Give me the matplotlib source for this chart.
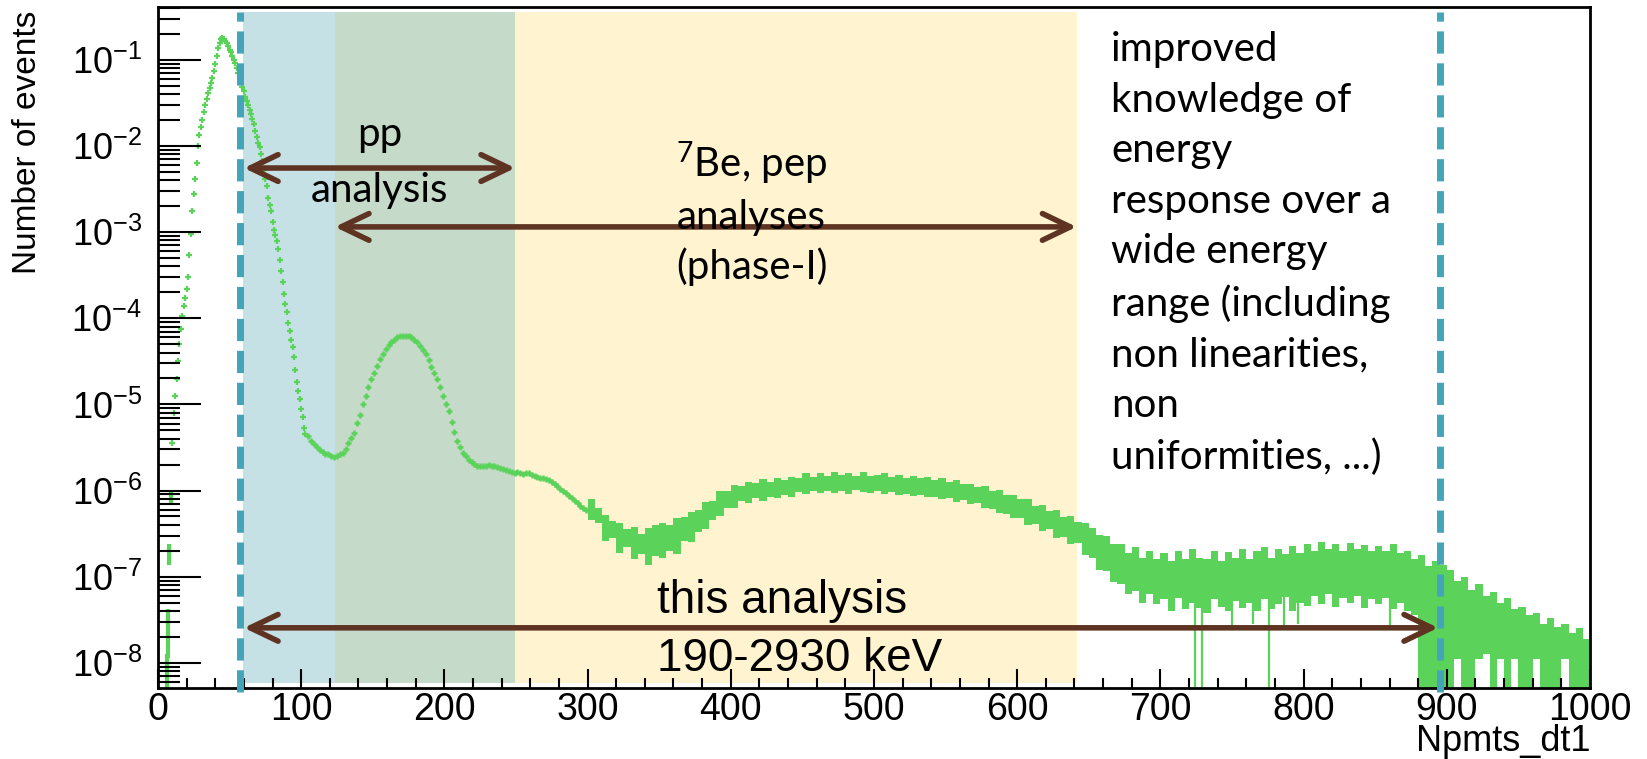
import numpy as np
import matplotlib
matplotlib.use("Agg")
import matplotlib.pyplot as plt
from matplotlib.ticker import LogLocator, MultipleLocator, NullFormatter

# log10(events) per bin, main peak and fall (bins 10..103)
peak_x = np.arange(10, 104)
peak_log = [
    -5.45, -5.10, -4.90, -4.70, -4.50, -4.30, -4.12, -3.97, -3.86, -3.76,
    -3.66, -3.52, -3.27, -3.02, -2.76, -2.56, -2.38, -2.20, -2.00, -1.87,
    -1.78, -1.70, -1.60, -1.52, -1.45, -1.38, -1.33, -1.27, -1.21, -1.13,
    -1.05, -0.95, -0.86, -0.80, -0.76, -0.75, -0.76, -0.78, -0.80, -0.84,
    -0.88, -0.91, -0.95, -1.00, -1.04, -1.10, -1.15, -1.20, -1.26, -1.31,
    -1.36, -1.43, -1.48, -1.52, -1.58, -1.63, -1.69, -1.75, -1.83, -1.90,
    -1.96, -2.01, -2.09, -2.18, -2.28, -2.38, -2.46, -2.60, -2.68, -2.75,
    -2.88, -2.97, -3.03, -3.10, -3.20, -3.32, -3.45, -3.58, -3.72, -3.83,
    -3.93, -4.05, -4.15, -4.25, -4.33, -4.45, -4.60, -4.74, -4.84, -4.94,
    -5.05, -5.15, -5.27, -5.34,
]

# second peak and shoulder (every 2nd bin, 105..299)
shoulder_x = np.arange(105, 300, 2)
shoulder_log = [
    -5.37, -5.42, -5.46, -5.50, -5.53, -5.55, -5.57, -5.58, -5.60, -5.61,
    -5.60, -5.58, -5.56, -5.52, -5.45, -5.39, -5.33, -5.22, -5.12, -5.00,
    -4.90, -4.80, -4.71, -4.63, -4.55, -4.47, -4.41, -4.36, -4.31, -4.28,
    -4.25, -4.22, -4.21, -4.20, -4.20, -4.21, -4.22, -4.25, -4.28, -4.32,
    -4.37, -4.42, -4.48, -4.56, -4.63, -4.71, -4.80, -4.90, -4.99, -5.08,
    -5.20, -5.32, -5.42, -5.50, -5.56, -5.60, -5.64, -5.67, -5.69, -5.71,
    -5.72, -5.71, -5.71, -5.70, -5.71, -5.72, -5.73, -5.74, -5.75, -5.76,
    -5.77, -5.78, -5.80, -5.79, -5.80, -5.81, -5.80, -5.80, -5.82, -5.83,
    -5.84, -5.85, -5.86, -5.87, -5.88, -5.90, -5.92, -5.95, -5.98, -6.00,
    -6.03, -6.06, -6.09, -6.12, -6.15, -6.18, -6.20, -6.23,
]

# first few bins, large error bars
edge_x = [6, 7, 8, 9]
edge_lo = [-8.40, -7.94, -6.86, -6.14]
edge_hi = [-7.90, -7.37, -6.62, -6.02]

# tail 300..1000, 5-wide bins, error band low/high edges (log10)
tail_x = np.arange(300, 1000, 5)
tail_lo = [
    -6.34, -6.38, -6.58, -6.55, -6.72, -6.66, -6.80, -6.74, -6.86, -6.76,
    -6.78, -6.70, -6.74, -6.58, -6.60, -6.48, -6.45, -6.34, -6.30, -6.20,
    -6.20, -6.12, -6.14, -6.09, -6.12, -6.07, -6.09, -6.05, -6.07, -6.02,
    -6.04, -6.01, -6.03, -6.00, -6.03, -6.00, -6.04, -5.99, -6.02, -6.03,
    -6.00, -6.04, -6.02, -6.05, -6.04, -6.06, -6.05, -6.08, -6.07, -6.10,
    -6.09, -6.13, -6.11, -6.16, -6.15, -6.20, -6.21, -6.26, -6.27, -6.32,
    -6.32, -6.40, -6.39, -6.47, -6.45, -6.55, -6.54, -6.62, -6.61, -6.75,
    -6.78, -6.92, -6.93, -7.06, -7.08, -7.20, -7.17, -7.30, -7.20, -7.32,
    -7.26, -7.40, -7.25, -7.38, -7.30, -7.36, -7.42, -7.26, -7.35, -7.40,
    -7.28, -7.36, -7.30, -7.40, -7.26, -7.38, -7.32, -7.24, -7.40, -7.30,
    -7.34, -7.22, -7.32, -7.20, -7.35, -7.25, -7.30, -7.22, -7.36, -7.26,
    -7.32, -7.25, -7.38, -7.30, -7.40, -7.45, -8.40, -8.40, -8.40, -8.40,
    -8.40, -7.95, -8.40, -8.40, -7.95, -7.90, -8.40, -7.95, -8.40, -7.95,
    -8.40, -8.40, -7.95, -8.40, -8.40, -8.40, -7.95, -8.40, -8.40, -8.40,
]
tail_hi = [
    -6.10, -6.20, -6.28, -6.35, -6.38, -6.45, -6.42, -6.50, -6.44, -6.40,
    -6.38, -6.40, -6.32, -6.31, -6.25, -6.22, -6.13, -6.12, -6.01, -6.00,
    -5.94, -5.95, -5.90, -5.91, -5.87, -5.90, -5.86, -5.88, -5.84, -5.85,
    -5.80, -5.84, -5.80, -5.83, -5.79, -5.82, -5.80, -5.83, -5.79, -5.83,
    -5.82, -5.80, -5.84, -5.82, -5.85, -5.83, -5.86, -5.84, -5.88, -5.86,
    -5.90, -5.88, -5.92, -5.92, -5.96, -5.95, -6.00, -5.99, -6.05, -6.05,
    -6.10, -6.10, -6.18, -6.17, -6.24, -6.23, -6.31, -6.30, -6.36, -6.38,
    -6.44, -6.52, -6.53, -6.62, -6.62, -6.72, -6.66, -6.78, -6.70, -6.80,
    -6.72, -6.82, -6.70, -6.80, -6.68, -6.78, -6.80, -6.70, -6.82, -6.71,
    -6.78, -6.68, -6.80, -6.70, -6.66, -6.78, -6.68, -6.74, -6.64, -6.72,
    -6.62, -6.70, -6.60, -6.68, -6.62, -6.70, -6.61, -6.68, -6.63, -6.70,
    -6.64, -6.70, -6.62, -6.72, -6.70, -6.80, -6.75, -6.88, -6.82, -6.86,
    -6.92, -7.05, -7.00, -7.15, -7.08, -7.22, -7.18, -7.30, -7.25, -7.38,
    -7.35, -7.45, -7.42, -7.55, -7.48, -7.58, -7.55, -7.65, -7.60, -7.72,
]

# single low bins inside the tail
dip_x = [724, 729, 750, 765, 776, 786, 796, 860]
dip_lo = [-8.40, -8.40, -7.60, -7.55, -8.40, -7.60, -7.55, -7.60]

# analysis windows
band_edges = [59.5, 123.5, 249.5, 641.5]
band_colors = ["#c5e1e6", "#c5dac8", "#fff3d0"]
cut_lines = [57, 895]

green = "#5bd35b"
teal = "#44a4b9"
brown = "#5e3322"

plt.rcParams["font.family"] = ["Liberation Sans", "DejaVu Sans"]

fig = plt.figure(figsize=(16.47, 7.59), dpi=100)
ax = fig.add_axes([0.0959, 0.0935, 0.8695, 0.8972])
ax.set_yscale("log")
ax.set_xlim(0, 1000)
ax.set_ylim(5.1e-9, 0.41)

# shaded windows
for a, b, c in zip(band_edges[:-1], band_edges[1:], band_colors):
    ax.axvspan(a, b, ymin=0.007, ymax=0.993, color=c, lw=0, zorder=0.5)

# spectrum
ax.plot(peak_x, 10 ** np.array(peak_log), ls="none", marker="+", ms=5, mew=1.6,
        color=green, zorder=1.5)
ax.plot(shoulder_x, 10 ** np.array(shoulder_log), ls="none", marker="+", ms=5,
        mew=1.8, color=green, zorder=1.5)
ax.vlines(edge_x, 10 ** np.array(edge_lo), 10 ** np.array(edge_hi), lw=3,
          color=green, zorder=1.5)
lo = 10 ** np.array(tail_lo)
hi = 10 ** np.array(tail_hi)
ax.bar(tail_x, hi - lo, bottom=lo, width=5, align="edge", color=green, lw=0,
       zorder=1.5)
ax.vlines(dip_x, 10 ** np.array(dip_lo), 1e-7, lw=1.6, color=green, zorder=1.5)

for x in cut_lines:
    ax.axvline(x, ymin=-0.006, ymax=0.993, color=teal, lw=5, dashes=(3.2, 1.4),
               clip_on=False, zorder=4)

# arrows
def arrow(x0, x1, y):
    ax.annotate("", xy=(x1, y), xytext=(x0, y),
                arrowprops=dict(arrowstyle="<->,head_length=1.0,head_width=0.48",
                                color=brown, lw=4, shrinkA=0, shrinkB=0,
                                mutation_scale=20, capstyle="round",
                                joinstyle="round"),
                zorder=5)

arrow(60, 249.5, 5.55e-3)
arrow(123.5, 641.5, 1.15e-3)
arrow(60, 894, 2.55e-8)

# annotations (va="baseline" pins the last line)
ax.text(155, 2.23e-3, "pp\nanalysis", ha="center", va="baseline", fontsize=29,
        family="Lato", linespacing=1.64, zorder=6)
ax.text(362, 2.84e-4, "$\\mathdefault{{}^{7}}$Be, pep\nanalyses\n(phase-I)",
        ha="left", va="baseline", fontsize=29, family="Lato", linespacing=1.38,
        zorder=6)
ax.text(665.5, 1.8e-6,
        "improved\nknowledge of\nenergy\nresponse over a\nwide energy\n"
        "range (including\nnon linearities,\nnon\nuniformities, ...)",
        ha="left", va="baseline", fontsize=29, family="Lato", linespacing=1.45,
        zorder=6)
ax.text(348.5, 8.07e-9, "this analysis\n190-2930 keV", ha="left", va="baseline",
        fontsize=33, linespacing=1.42, zorder=6)

# axes styling (ROOT look)
ax.xaxis.set_major_locator(MultipleLocator(100))
ax.xaxis.set_minor_locator(MultipleLocator(20))
ax.yaxis.set_major_locator(LogLocator(base=10, numticks=20))
ax.yaxis.set_minor_locator(LogLocator(base=10, subs=np.arange(2, 10), numticks=20))
ax.yaxis.set_minor_formatter(NullFormatter())
ax.tick_params(axis="y", which="major", direction="in", length=31, width=1.5,
               labelsize=26, pad=11.5)
ax.tick_params(axis="y", which="minor", direction="in", length=15.5, width=1.5)
ax.tick_params(axis="x", which="major", direction="in", length=14, width=1.5,
               labelsize=27, pad=3)
ax.tick_params(axis="x", which="minor", direction="in", length=7, width=1.5)
for s in ax.spines.values():
    s.set_linewidth(2)

ax.set_xlabel("Npmts_dt1", loc="right", fontsize=26)
ax.xaxis.set_label_coords(1.0, -0.053)
ax.set_ylabel("Number of events", loc="top", fontsize=24)
ax.yaxis.set_label_coords(-0.080, 0.995)

fig.savefig("out.png", dpi=100)
